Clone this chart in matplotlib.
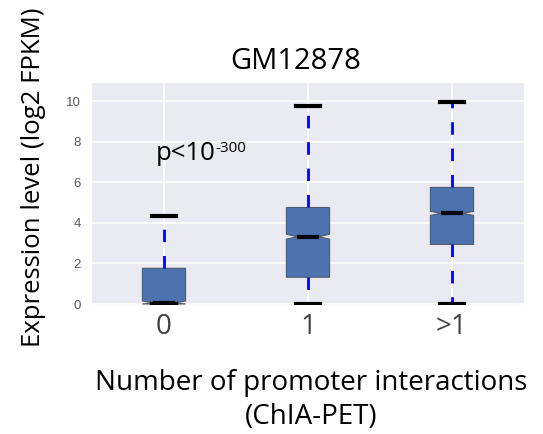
import matplotlib
matplotlib.use("Agg")
import matplotlib.pyplot as plt

# ---- data ----
categories = ["0", "1", ">1"]
q1 = [0.0, 1.32, 2.94]
medians = [0.07, 3.32, 4.47]
q3 = [1.76, 4.76, 5.75]
whisker_low = [0.0, 0.0, 0.0]
whisker_high = [4.35, 9.77, 9.97]
notch_low = [0.0, 3.20, 4.37]
notch_high = [0.15, 3.44, 4.57]
y_ticks = [0, 2, 4, 6, 8, 10]

title = "GM12878"
ylabel = "Expression level (log2 FPKM)"
xlabel = "Number of promoter interactions\n(ChIA-PET)"
p_main = "p<10"
p_exp = "-300"

txt_font = ["Open Sans", "DejaVu Sans"]
tick_font = ["Liberation Sans", "DejaVu Sans"]

fig = plt.figure(figsize=(5.43, 4.34), dpi=100)
ax = fig.add_axes([0.1694, 0.2972, 0.7956, 0.5116])
ax.set_facecolor("#EAEAF2")
for s in ax.spines.values():
    s.set_visible(False)
ax.grid(True, color="white", linewidth=1.1)
ax.set_axisbelow(True)

stats = []
for i, c in enumerate(categories):
    stats.append(dict(label=c, q1=q1[i], med=medians[i], q3=q3[i],
                      whislo=whisker_low[i], whishi=whisker_high[i],
                      cilo=notch_low[i], cihi=notch_high[i], fliers=[]))

positions = list(range(1, len(categories) + 1))
ax.bxp(stats, positions=positions, widths=0.3, capwidths=0.17,
       shownotches=True, patch_artist=True, showfliers=False,
       boxprops=dict(facecolor="#4C72B0", edgecolor="#505A6A", linewidth=0.8),
       whiskerprops=dict(color="#0000FF", linewidth=2.0, linestyle=(0, (4.5, 5))),
       capprops=dict(color="black", linewidth=3.0),
       medianprops=dict(color="black", linewidth=3.0))

ax.set_xlim(0.5, 3.5)
ax.set_ylim(-0.05, 10.9)
ax.set_yticks(y_ticks)
ax.set_yticklabels([str(t) for t in y_ticks], family=tick_font, fontsize=9.5, color="#5a5a5a")
ax.set_xticks(positions)
ax.set_xticklabels(categories, family=txt_font, fontsize=20, color="#404040")
ax.tick_params(axis="both", length=0)
ax.tick_params(axis="y", pad=8)
ax.tick_params(axis="x", pad=6)

t1 = ax.text(0.94, 7.09, p_main, family=txt_font, fontsize=18.5, color="black",
             ha="left", va="baseline")
ax.annotate(p_exp, xy=(1.0, 1.0), xycoords=t1, family=txt_font, fontsize=11,
            color="black", ha="left", va="top")

fig.text(0.545, 0.859, title, family=txt_font, fontsize=21, ha="center", va="center")
fig.text(0.061, 0.592, ylabel, family=txt_font, fontsize=18.5, rotation=90,
         ha="center", va="center")
fig.text(0.573, 0.078, xlabel, family=txt_font, fontsize=20, ha="center",
         va="center", linespacing=1.3)

fig.savefig("out.png", dpi=100)
